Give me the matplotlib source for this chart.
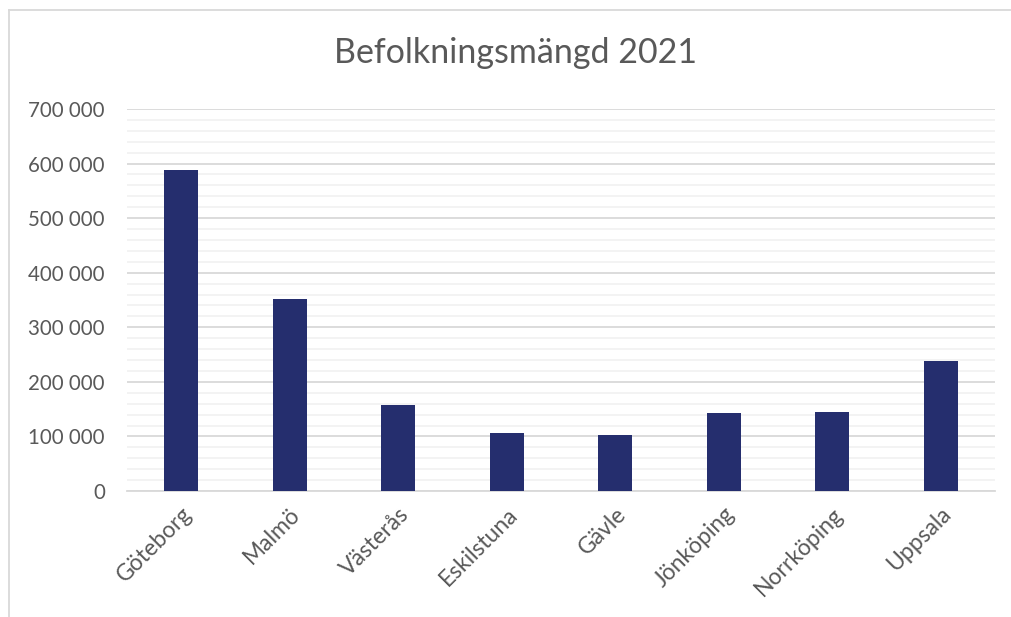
import numpy
import matplotlib
matplotlib.use("Agg")
from matplotlib import pyplot as plt
from matplotlib.lines import Line2D
from matplotlib.ticker import MultipleLocator, FuncFormatter

# Data
cities = ['Göteborg', 'Malmö', 'Västerås', 'Eskilstuna', 'Gävle', 'Jönköping', 'Norrköping', 'Uppsala']
population = [587549, 351749, 157000, 107000, 103000, 143000, 144500, 237596]
title = 'Befolkningsmängd 2021'

plt.rcParams['font.family'] = ['Lato', 'DejaVu Sans']
textcol = '#595959'

fig = plt.figure(figsize=(10.11, 6.17), dpi=100)
ax = fig.add_axes([127/1011, 1-491/617, (995-127)/1011, (491-109)/617])

x = numpy.arange(len(cities))
ax.bar(x, population, width=0.31, color='#252e6e', zorder=3)

ax.set_ylim(0, 700000)
ax.set_xlim(-0.5, len(cities)-0.5)
ax.yaxis.set_major_locator(MultipleLocator(100000))
ax.yaxis.set_minor_locator(MultipleLocator(20000))
ax.yaxis.set_major_formatter(FuncFormatter(lambda v, p: '{:,.0f}'.format(v).replace(',', ' ')))
ax.grid(axis='y', which='major', color='#d9d9d9', lw=1.3, zorder=0)
ax.grid(axis='y', which='minor', color='#f2f2f2', lw=1.3, zorder=0)
ax.tick_params(axis='both', which='both', length=0)
ax.tick_params(axis='y', labelsize=14.8, labelcolor=textcol, pad=16)
ax.set_xticks(x)
ax.set_xticklabels(cities, rotation=45, ha='right', rotation_mode='anchor', fontsize=16.5, color=textcol)
ax.tick_params(axis='x', pad=9)
for s in ['top', 'right', 'left']:
	ax.spines[s].set_visible(False)
ax.spines['bottom'].set_color('#d9d9d9')
ax.spines['bottom'].set_linewidth(1.3)

fig.text(516/1011, 1-53/617, title, ha='center', va='center', fontsize=24.5, color=textcol)

# chart border (top and left only visible)
fig.add_artist(Line2D([9/1011, 1], [1-10/617, 1-10/617], color='#d9d9d9', lw=1.3))
fig.add_artist(Line2D([9/1011, 9/1011], [0, 1-10/617], color='#d9d9d9', lw=1.3))

plt.savefig('out.png', dpi=100)
